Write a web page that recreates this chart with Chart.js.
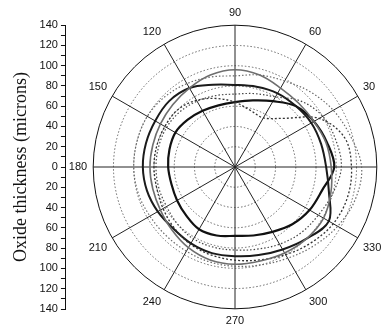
<!DOCTYPE html>
<html><head><meta charset="utf-8">
<script src="https://cdn.jsdelivr.net/npm/chart.js@4"></script>
<style>
html,body{margin:0;padding:0;background:#fff;overflow:hidden;width:386px;height:330px}
#ax{position:absolute;left:0;top:0}
#polar{position:absolute;left:49px;top:6px}
</style></head><body>
<canvas id="ax" width="160" height="330"></canvas>
<canvas id="polar" width="372" height="323"></canvas>
<script>
// angles in degrees (0 = right, counter-clockwise), 15 degree steps
const angles = [0,15,30,45,60,75,90,105,120,135,150,165,180,195,210,225,240,255,270,285,300,315,330,345];
// oxide thickness (microns) per angle, one array per trace
const seriesA = [98,94,90,85,75,68,64,63,64,66,68,67,66,65,66,68,71,70,68,70,74,80,85,89];
const seriesB = [90,88,87,85,84,82,81,84,90,92,91,91,91,90,88,86,87,88,88,90,94,100,107,96];
const seriesC = [95,93,90,89,90,94,96,94,90,87,85,84,84,84,85,88,92,95,96,96,98,100,101,98];
const seriesD = [115,112,96,68,56,58,64,70,76,80,80,80,80,80,82,85,88,90,92,95,100,106,112,115];
const seriesE = [125,118,112,105,98,94,90,92,95,98,100,100,100,99,97,96,96,97,98,100,104,110,117,123];
const seriesF = [105,103,100,92,80,75,72,73,75,77,78,78,78,78,78,80,82,82,82,84,88,92,95,100];
const angleTickLabels = ['30','60','90','120','150','180','210','240','270','300','330'];
const radialMax = 140;
const radialStep = 20;

// radar order: start at top (90 deg) and go clockwise
const order = angles.map((_, k) => ((90 - 15 * k) % 360 + 360) % 360);
const idxOf = a => angles.indexOf(a);
const radarLabels = order.map(a => angleTickLabels.includes(String(a)) ? String(a) : '');
const reorder = arr => order.map(a => arr[idxOf(a)]);

const styles = [
  {data: seriesC, color:'#6e6e6e', w:1.6, dash:[]},
  {data: seriesE, color:'#6a6a6a', w:1.2, dash:[1.5,2]},
  {data: seriesF, color:'#444', w:1.2, dash:[1.5,2]},
  {data: seriesD, color:'#333', w:1.3, dash:[2,2]},
  {data: seriesB, color:'#1a1a1a', w:2, dash:[]},
  {data: seriesA, color:'#111', w:2.2, dash:[]}
];

new Chart(document.getElementById('polar'), {
  type: 'radar',
  data: {
    labels: radarLabels,
    datasets: styles.map(s => ({
      data: reorder(s.data),
      borderColor: s.color,
      borderWidth: s.w,
      borderDash: s.dash,
      backgroundColor: 'transparent',
      fill: false,
      pointRadius: 0,
      pointHoverRadius: 0,
      tension: 0.35
    }))
  },
  options: {
    responsive: false,
    animation: false,
    plugins: {legend: {display: false}, tooltip: {enabled: false}},
    layout: {padding: 0},
    scales: {
      r: {
        min: 0, max: radialMax,
        startAngle: 0,
        ticks: {display: false, stepSize: radialStep},
        grid: {
          circular: true,
          color: c => (c.tick && c.tick.value === radialMax) ? '#111' : '#666',
          lineWidth: 1
        },
        border: {dash: c => (c.tick && c.tick.value === radialMax) ? [] : [1.5, 2]},
        angleLines: {
          display: true,
          color: '#222',
          lineWidth: c => c.index % 2 === 0 ? 1 : 0
        },
        pointLabels: {
          display: true,
          padding: 6,
          color: '#111',
          font: {family: 'Liberation Sans', size: 11}
        }
      }
    }
  }
});

new Chart(document.getElementById('ax'), {
  type: 'line',
  data: {labels: [''], datasets: [{data: [null]}]},
  options: {
    responsive: false,
    animation: false,
    plugins: {legend: {display: false}, tooltip: {enabled: false}},
    layout: {padding: {top: 25, bottom: 21, left: 10, right: 0}},
    scales: {
      x: {display: false},
      y: {
        min: -radialMax, max: radialMax,
        ticks: {
          stepSize: 10, autoSkip: false, padding: 3, color: '#111',
          font: {family: 'Liberation Sans', size: 11},
          callback: v => (v % 20 === 0 ? String(Math.abs(v)) : '')
        },
        grid: {drawOnChartArea: false, drawTicks: true, tickLength: 5, color: '#111'},
        border: {display: true, color: '#111'},
        title: {
          display: true, text: 'Oxide thickness (microns)',
          font: {family: 'Liberation Serif', size: 18}, color: '#111',
          padding: {top: 0, bottom: 5}
        }
      }
    }
  }
});
</script>
</body></html>
